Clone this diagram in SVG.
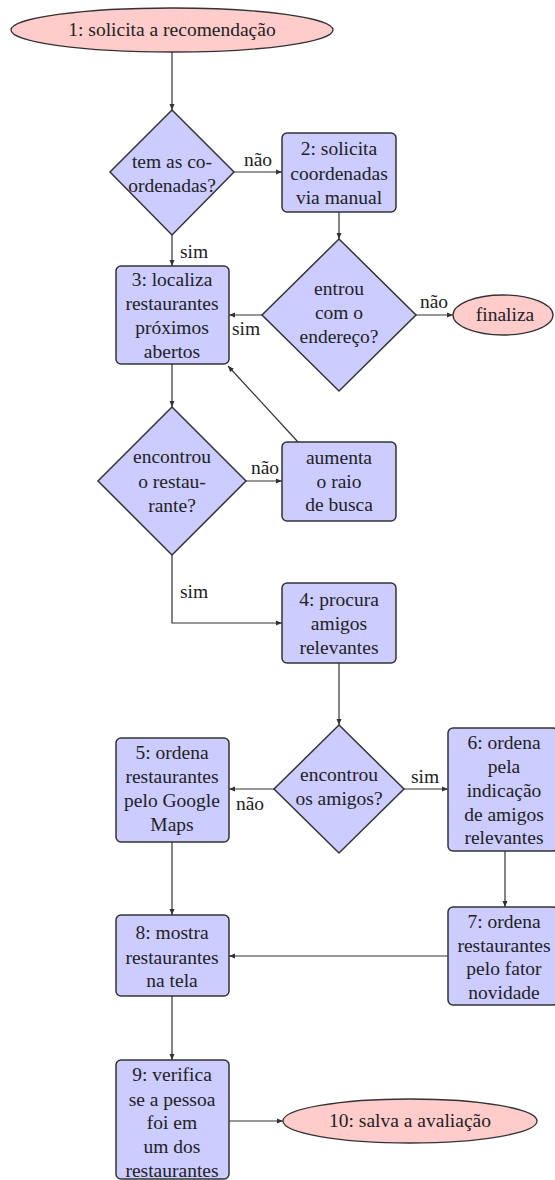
<svg xmlns="http://www.w3.org/2000/svg" width="555" height="1180" viewBox="0 0 555 1180" font-family="Liberation Serif, Times New Roman, Times, serif" font-size="19.5">
<style>
.blk{fill:#CCCCFF;stroke:#333;stroke-width:1.5}
.term{fill:#FFCCCC;stroke:#333;stroke-width:1.3}
text{fill:#222;text-anchor:middle}
.c{fill:none;stroke:#333;stroke-width:1.2;marker-end:url(#ah)}
</style>
<defs>
<marker id="ah" markerUnits="userSpaceOnUse" markerWidth="7" markerHeight="6" refX="6" refY="3" orient="auto">
<path d="M0,0.5 L6,3 L0,5.5 z" fill="#333"/>
</marker>
</defs>
<rect width="555" height="1180" fill="#fff"/>
<g id="connectors">
<path class="c" d="M172,52 V110"/>
<path class="c" d="M234,172 H282"/>
<path class="c" d="M172,235 V266"/>
<path class="c" d="M339,212 V239"/>
<path class="c" d="M262,315 H229"/>
<path class="c" d="M416,315 H453"/>
<path class="c" d="M172,364 V407"/>
<path class="c" d="M246,481 H282"/>
<path class="c" d="M298,442 L228,366"/>
<path class="c" d="M172,555 V623 H282"/>
<path class="c" d="M339,663 V725"/>
<path class="c" d="M274,789 H229"/>
<path class="c" d="M404,789 H448"/>
<path class="c" d="M505,851 V907"/>
<path class="c" d="M448,956 H229"/>
<path class="c" d="M172,842 V915"/>
<path class="c" d="M172,996 V1060"/>
<path class="c" d="M229,1121 H283"/>
<text x="258" y="166">não</text>
<text x="194" y="258">sim</text>
<text x="246" y="335">sim</text>
<text x="434" y="308">não</text>
<text x="265" y="474">não</text>
<text x="194" y="598">sim</text>
<text x="250" y="810">não</text>
<text x="425" y="783">sim</text>
</g>
<g id="n1">
<ellipse class="term" cx="172" cy="30" rx="161" ry="22"/>
<text x="172" y="36">1: solicita a recomendação</text>
</g>
<g id="d1">
<polygon class="blk" points="172,110 234,172 172,235 110,172"/>
<text x="172" y="168">tem as co-</text>
<text x="172" y="192">ordenadas?</text>
</g>
<g id="n2">
<rect class="blk" x="282" y="133" width="114" height="79" rx="5"/>
<text x="339" y="155">2: solicita</text>
<text x="339" y="180">coordenadas</text>
<text x="339" y="204">via manual</text>
</g>
<g id="d2">
<polygon class="blk" points="339,239 416,315 339,391 262,315"/>
<text x="339" y="295">entrou</text>
<text x="339" y="319">com o</text>
<text x="339" y="343">endereço?</text>
</g>
<g id="fim">
<ellipse class="term" cx="503" cy="315" rx="50" ry="20"/>
<text x="505" y="321">finaliza</text>
</g>
<g id="n3">
<rect class="blk" x="116" y="266" width="113" height="98" rx="5"/>
<text x="172" y="286">3: localiza</text>
<text x="172" y="310">restaurantes</text>
<text x="172" y="334">próximos</text>
<text x="172" y="358">abertos</text>
</g>
<g id="d3">
<polygon class="blk" points="172,407 246,481 172,555 98,481"/>
<text x="172" y="463">encontrou</text>
<text x="172" y="488">o restau-</text>
<text x="172" y="512">rante?</text>
</g>
<g id="raio">
<rect class="blk" x="282" y="442" width="114" height="79" rx="5"/>
<text x="339" y="464">aumenta</text>
<text x="339" y="488">o raio</text>
<text x="339" y="511">de busca</text>
</g>
<g id="n4">
<rect class="blk" x="282" y="583" width="114" height="80" rx="5"/>
<text x="339" y="606">4: procura</text>
<text x="339" y="630">amigos</text>
<text x="339" y="654">relevantes</text>
</g>
<g id="d4">
<polygon class="blk" points="339,725 404,789 339,853 274,789"/>
<text x="339" y="781">encontrou</text>
<text x="339" y="805">os amigos?</text>
</g>
<g id="n5">
<rect class="blk" x="116" y="738" width="113" height="104" rx="5"/>
<text x="172" y="759">5: ordena</text>
<text x="172" y="783">restaurantes</text>
<text x="172" y="807">pelo Google</text>
<text x="172" y="831">Maps</text>
</g>
<g id="n6">
<rect class="blk" x="448" y="728" width="110" height="123" rx="5"/>
<text x="504" y="749">6: ordena</text>
<text x="504" y="773">pela</text>
<text x="504" y="797">indicação</text>
<text x="504" y="821">de amigos</text>
<text x="504" y="844">relevantes</text>
</g>
<g id="n7">
<rect class="blk" x="448" y="907" width="110" height="98" rx="5"/>
<text x="504" y="928">7: ordena</text>
<text x="504" y="952">restaurantes</text>
<text x="504" y="975">pelo fator</text>
<text x="504" y="999">novidade</text>
</g>
<g id="n8">
<rect class="blk" x="116" y="915" width="113" height="81" rx="5"/>
<text x="172" y="939">8: mostra</text>
<text x="172" y="964">restaurantes</text>
<text x="172" y="987">na tela</text>
</g>
<g id="n9">
<rect class="blk" x="116" y="1060" width="113" height="119" rx="5"/>
<text x="172" y="1081">9: verifica</text>
<text x="172" y="1106">se a pessoa</text>
<text x="172" y="1129">foi em</text>
<text x="172" y="1153">um dos</text>
<text x="172" y="1177">restaurantes</text>
</g>
<g id="n10">
<ellipse class="term" cx="410" cy="1121" rx="127" ry="22"/>
<text x="410" y="1127">10: salva a avaliação</text>
</g>
</svg>
